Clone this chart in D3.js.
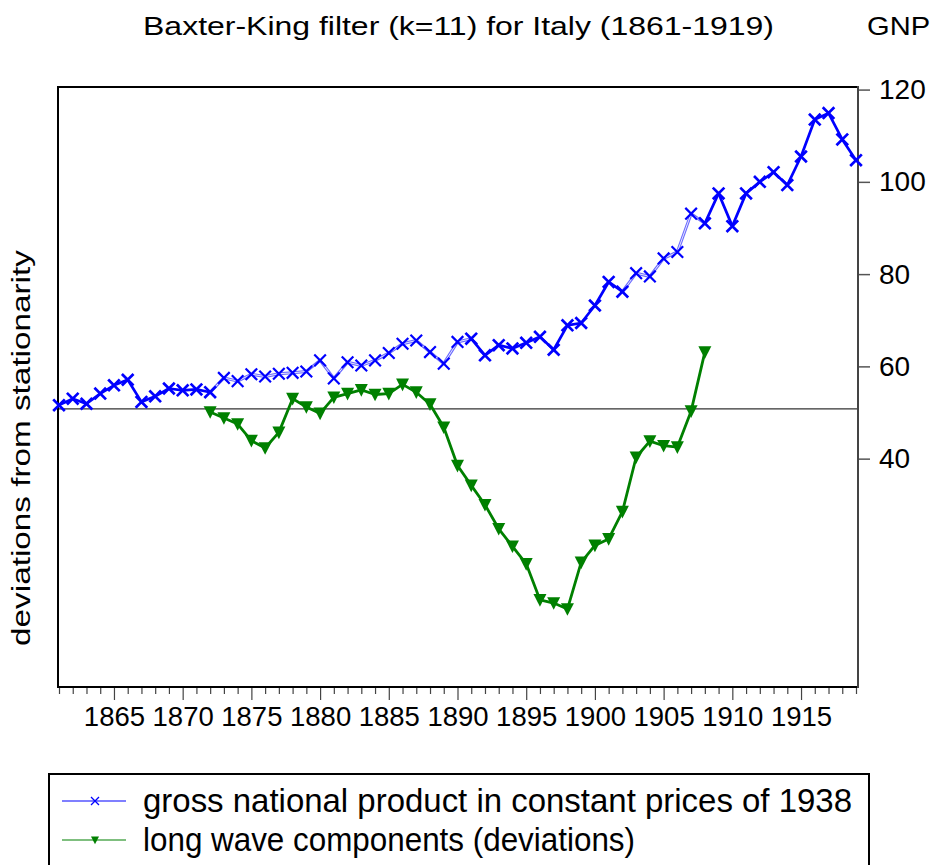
<!DOCTYPE html>
<html>
<head>
<meta charset="utf-8">
<script src="https://cdn.jsdelivr.net/npm/d3@7/dist/d3.min.js"></script>
<style>
  html, body { margin: 0; padding: 0; background: #fff; }
  svg { display: block; font-family: "Liberation Sans", Arial, sans-serif; }
</style>
</head>
<body>
<svg id="chart" width="938" height="865"></svg>
<script>
// ---- data ----
const years = d3.range(1861, 1920);
const gnp = [51.6, 53.0, 51.9, 54.1, 55.9, 57.1, 52.3, 53.5, 55.2, 54.8,
             55.0, 54.4, 57.5, 56.8, 58.3, 57.8, 58.4, 58.6, 58.9, 61.3,
             57.4, 60.9, 60.2, 61.3, 62.9, 64.9, 65.6, 63.1, 60.6, 65.3,
             66.0, 62.4, 64.6, 63.9, 65.1, 66.4, 63.6, 68.9, 69.4, 73.2,
             78.3, 76.2, 80.2, 79.5, 83.4, 84.8, 93.1, 91.0, 97.5, 90.4,
             97.5, 100.0, 102.1, 99.3, 105.5, 113.5, 114.9, 109.2, 104.7];
const waveYears = d3.range(1872, 1909);
const wave = [-0.7, -2.0, -3.3, -6.9, -8.5, -5.1, 2.2, 0.4, -1.0, 2.5,
              3.3, 4.1, 3.1, 3.3, 5.3, 3.6, 1.0, -4.0, -12.3, -16.6,
              -20.8, -26.0, -29.8, -33.6, -41.4, -42.1, -43.4, -33.3, -29.6, -28.2,
              -22.3, -10.5, -7.0, -8.0, -8.3, -0.5, 12.3];
const gnpTicks = [40, 60, 80, 100, 120];
const yearLabels = [1865, 1870, 1875, 1880, 1885, 1890, 1895, 1900, 1905, 1910, 1915];
const thinSpans = [[1872, 1891], [1902, 1908]];   // segments drawn in the light double style
const title = "Baxter-King filter (k=11) for Italy (1861-1919)";
const rightTitle = "GNP";
const leftTitle = "deviations from stationarity";
const legendLabels = ["gross national product in constant prices of 1938",
                      "long wave components (deviations)"];
const zeroLevelGNP = 50.8; // where the deviations zero line sits on the GNP axis

// ---- layout ----
const L = 58, R = 858, T = 87, B = 687;
const svg = d3.select("#chart");
const x = d3.scaleLinear().domain([1861, 1919]).range([L + 1, R - 2]);
const yR = d3.scaleLinear().domain([-9.5, 120.56]).range([B, T]);
const yL = d3.scaleLinear().domain([-9.5 - zeroLevelGNP, 120.56 - zeroLevelGNP]).range([B, T]);
const blue = "#0000ff", green = "#008000";

// titles
svg.append("text").attr("transform", "translate(458.5,35) scale(1.23,1)")
  .attr("text-anchor", "middle").attr("font-size", 26).text(title);
svg.append("text").attr("transform", "translate(867,35) scale(1.12,1)")
  .attr("font-size", 26).text(rightTitle);
svg.append("text").attr("transform", "translate(30,448) rotate(-90) scale(1.28,1)")
  .attr("text-anchor", "middle").attr("font-size", 26).text(leftTitle);

// zero line
svg.append("line").attr("x1", L).attr("x2", R).attr("y1", yL(0)).attr("y2", yL(0))
  .attr("stroke", "#333").attr("stroke-width", 1.2);

// right axis
const ax = svg.append("g").attr("transform", `translate(${R},0)`)
  .call(d3.axisRight(yR).tickValues(gnpTicks).tickSize(12).tickPadding(9));
ax.select(".domain").remove();
ax.selectAll("line").attr("stroke", "#555").attr("stroke-width", 1.5);
ax.selectAll("text").attr("font-size", 28).attr("fill", "#000")
  .attr("font-family", "Liberation Sans, Arial, sans-serif");

// bottom axis
const bx = svg.append("g").attr("transform", `translate(0,${B + 1})`)
  .call(d3.axisBottom(x).tickValues(years).tickSize(6)
    .tickFormat(d => yearLabels.includes(d) ? d : ""));
bx.select(".domain").remove();
bx.selectAll(".tick line").attr("stroke", "#444").attr("stroke-width", 1.2)
  .attr("y2", d => yearLabels.includes(d) ? 12 : 6);
bx.selectAll(".tick text").attr("font-size", 27.5).attr("fill", "#000").attr("y", 18.5)
  .attr("font-family", "Liberation Sans, Arial, sans-serif");

// frame
svg.append("path").attr("d", `M${R},${B}H${L}V${T}H${R}`).attr("fill", "none")
  .attr("stroke", "#000").attr("stroke-width", 2);
svg.append("line").attr("x1", R).attr("x2", R).attr("y1", T - 1).attr("y2", B + 1)
  .attr("stroke", "#444").attr("stroke-width", 2);

// GNP line, segment by segment
const pts = years.map((yr, i) => ({ yr, v: gnp[i] }));
const isThin = yr => thinSpans.some(([a, b]) => yr >= a && yr < b);
const line = d3.line().x(d => x(d.yr)).y(d => yR(d.v));
const g = svg.append("g");
for (let i = 0; i < pts.length - 1; i++) {
  const seg = [pts[i], pts[i + 1]];
  if (isThin(pts[i].yr)) {
    g.append("path").attr("d", line(seg)).attr("stroke", "#6a6aff").attr("stroke-width", 3).attr("fill", "none");
    g.append("path").attr("d", line(seg)).attr("stroke", "#e4e4ff").attr("stroke-width", 1).attr("fill", "none");
  } else {
    g.append("path").attr("d", line(seg)).attr("stroke", blue).attr("stroke-width", 2.7)
      .attr("fill", "none").attr("stroke-linecap", "round");
  }
}
const s = 5.8;
g.selectAll(".xm").data(pts).enter().append("path")
  .attr("d", d => `M${x(d.yr) - s},${yR(d.v) - s}L${x(d.yr) + s},${yR(d.v) + s}M${x(d.yr) - s},${yR(d.v) + s}L${x(d.yr) + s},${yR(d.v) - s}`)
  .attr("stroke", blue).attr("stroke-width", d => (isThin(d.yr) && isThin(d.yr - 1)) ? 2.2 : 2.7);

// wave line
const wpts = waveYears.map((yr, i) => ({ yr, v: wave[i] }));
svg.append("path").attr("d", d3.line().x(d => x(d.yr)).y(d => yL(d.v))(wpts))
  .attr("fill", "none").attr("stroke", green).attr("stroke-width", 2.8).attr("stroke-linejoin", "round");
const tri = (cx, cy, h) => `M${cx - h},${cy - h * 0.9}L${cx + h},${cy - h * 0.9}L${cx},${cy + h * 1.05}Z`;
svg.selectAll(".tm").data(wpts).enter().append("path")
  .attr("d", d => tri(x(d.yr), yL(d.v), 6.5)).attr("fill", green);

// legend
const lg = svg.append("g");
lg.append("rect").attr("x", 49).attr("y", 774).attr("width", 820).attr("height", 110)
  .attr("fill", "#fff").attr("stroke", "#000").attr("stroke-width", 2);
lg.append("line").attr("x1", 62).attr("x2", 126).attr("y1", 801).attr("y2", 801).attr("stroke", blue).attr("stroke-width", 1.2);
lg.append("path").attr("d", `M${95 - 4},${801 - 4}L${95 + 4},${801 + 4}M${95 - 4},${801 + 4}L${95 + 4},${801 - 4}`)
  .attr("stroke", blue).attr("stroke-width", 1.3);
lg.append("line").attr("x1", 62).attr("x2", 126).attr("y1", 840).attr("y2", 840).attr("stroke", green).attr("stroke-width", 1.2);
lg.append("path").attr("d", tri(95, 840, 4)).attr("fill", green);
legendLabels.forEach((t, i) => {
  lg.append("text").attr("x", 143).attr("y", 812 + i * 39).attr("font-size", 33)
    .attr("textLength", i === 0 ? 709 : 492).attr("lengthAdjust", "spacingAndGlyphs").text(t);
});
</script>
</body>
</html>
